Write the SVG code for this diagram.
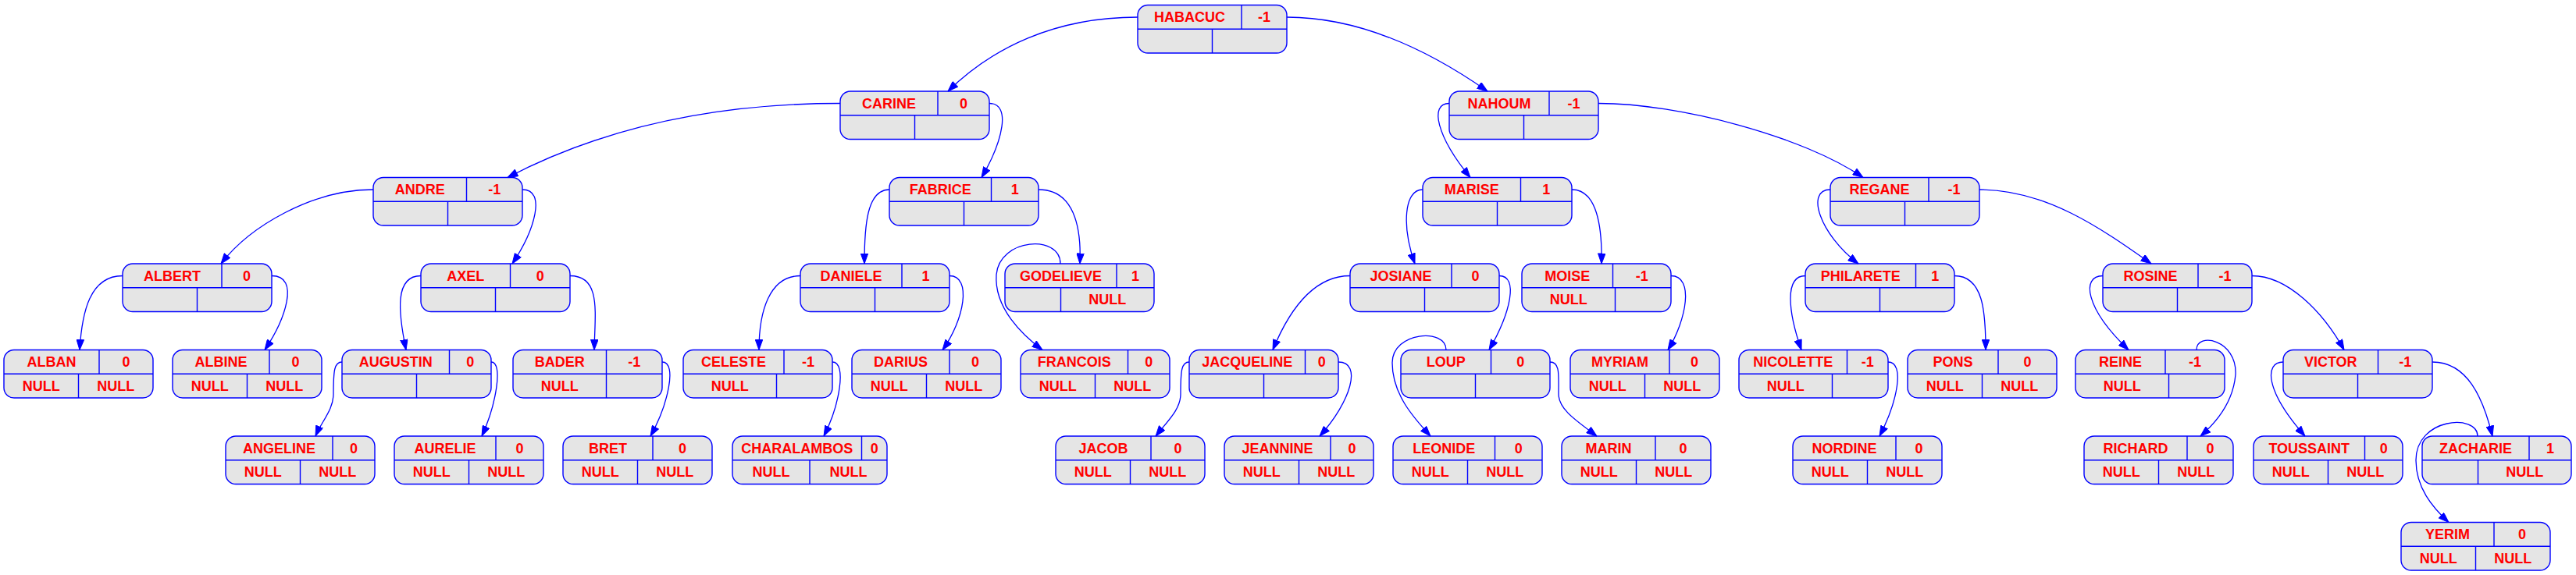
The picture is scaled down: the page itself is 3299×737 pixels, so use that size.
<svg xmlns="http://www.w3.org/2000/svg" width="3299" height="737" viewBox="0 0 3299 737">
<style>
.n rect{fill:#e5e5e5;stroke:#0000ff;stroke-width:1.4}
.n path{fill:none;stroke:#0000ff;stroke-width:1.4}
.n text{font-family:"Liberation Sans",Arial,sans-serif;font-weight:bold;font-size:18px;fill:#ff0000;text-anchor:middle}
.e path{fill:none;stroke:#0000ff;stroke-width:1.3;marker-end:url(#a)}
</style>
<defs>
<marker id="a" markerUnits="userSpaceOnUse" markerWidth="14" markerHeight="10" refX="13" refY="5" orient="auto" viewBox="0 0 13 10"><path d="M0,0.3 L13,5 L0,9.7 z" fill="#0000ff" stroke="#0000ff" stroke-width="1"/></marker>
</defs>
<rect width="3299" height="737" fill="#ffffff"/>
<g id="nodes">
<g id="HABACUC" class="n"><rect x="1457" y="6.5" width="191" height="61.5" rx="13"/><path d="M1457,37.25H1648M1590,6.5V37.25M1552.5,37.25V68"/><text x="1523.5" y="28">HABACUC</text><text x="1619" y="28">-1</text></g>
<g id="CARINE" class="n"><rect x="1076" y="117" width="191" height="61.5" rx="13"/><path d="M1076,147.75H1267M1201,117V147.75M1171.5,147.75V178.5"/><text x="1138.5" y="138.5">CARINE</text><text x="1234" y="138.5">0</text></g>
<g id="NAHOUM" class="n"><rect x="1856" y="117" width="191" height="61.5" rx="13"/><path d="M1856,147.75H2047M1984,117V147.75M1951.5,147.75V178.5"/><text x="1920" y="138.5">NAHOUM</text><text x="2015.5" y="138.5">-1</text></g>
<g id="ANDRE" class="n"><rect x="478" y="227.5" width="191" height="61.5" rx="13"/><path d="M478,258.25H669M597.5,227.5V258.25M573.5,258.25V289"/><text x="537.75" y="249">ANDRE</text><text x="633.25" y="249">-1</text></g>
<g id="FABRICE" class="n"><rect x="1139" y="227.5" width="191" height="61.5" rx="13"/><path d="M1139,258.25H1330M1269.5,227.5V258.25M1234.5,258.25V289"/><text x="1204.25" y="249">FABRICE</text><text x="1299.75" y="249">1</text></g>
<g id="MARISE" class="n"><rect x="1822" y="227.5" width="191" height="61.5" rx="13"/><path d="M1822,258.25H2013M1947.5,227.5V258.25M1917.5,258.25V289"/><text x="1884.75" y="249">MARISE</text><text x="1980.25" y="249">1</text></g>
<g id="REGANE" class="n"><rect x="2344" y="227.5" width="191" height="61.5" rx="13"/><path d="M2344,258.25H2535M2470,227.5V258.25M2439.5,258.25V289"/><text x="2407" y="249">REGANE</text><text x="2502.5" y="249">-1</text></g>
<g id="ALBERT" class="n"><rect x="157" y="338" width="191" height="61.5" rx="13"/><path d="M157,368.75H348M284,338V368.75M252.5,368.75V399.5"/><text x="220.5" y="359.5">ALBERT</text><text x="316" y="359.5">0</text></g>
<g id="AXEL" class="n"><rect x="539" y="338" width="191" height="61.5" rx="13"/><path d="M539,368.75H730M653.5,338V368.75M634.5,368.75V399.5"/><text x="596.25" y="359.5">AXEL</text><text x="691.75" y="359.5">0</text></g>
<g id="DANIELE" class="n"><rect x="1025" y="338" width="191" height="61.5" rx="13"/><path d="M1025,368.75H1216M1155,338V368.75M1120.5,368.75V399.5"/><text x="1090" y="359.5">DANIELE</text><text x="1185.5" y="359.5">1</text></g>
<g id="GODELIEVE" class="n"><rect x="1287" y="338" width="191" height="61.5" rx="13"/><path d="M1287,368.75H1478M1430,338V368.75M1358.5,368.75V399.5"/><text x="1358.5" y="359.5">GODELIEVE</text><text x="1454" y="359.5">1</text><text x="1418.25" y="390">NULL</text></g>
<g id="JOSIANE" class="n"><rect x="1729" y="338" width="191" height="61.5" rx="13"/><path d="M1729,368.75H1920M1859,338V368.75M1824.5,368.75V399.5"/><text x="1794" y="359.5">JOSIANE</text><text x="1889.5" y="359.5">0</text></g>
<g id="MOISE" class="n"><rect x="1949" y="338" width="191" height="61.5" rx="13"/><path d="M1949,368.75H2140M2065.5,338V368.75M2068.5,368.75V399.5"/><text x="2007.25" y="359.5">MOISE</text><text x="2102.75" y="359.5">-1</text><text x="2008.75" y="390">NULL</text></g>
<g id="PHILARETE" class="n"><rect x="2312" y="338" width="191" height="61.5" rx="13"/><path d="M2312,368.75H2503M2453.5,338V368.75M2407.5,368.75V399.5"/><text x="2382.75" y="359.5">PHILARETE</text><text x="2478.25" y="359.5">1</text></g>
<g id="ROSINE" class="n"><rect x="2693" y="338" width="191" height="61.5" rx="13"/><path d="M2693,368.75H2884M2815,338V368.75M2788.5,368.75V399.5"/><text x="2754" y="359.5">ROSINE</text><text x="2849.5" y="359.5">-1</text></g>
<g id="ALBAN" class="n"><rect x="5" y="448.5" width="191" height="61.5" rx="13"/><path d="M5,479.25H196M127,448.5V479.25M100.5,479.25V510"/><text x="66" y="470">ALBAN</text><text x="161.5" y="470">0</text><text x="52.75" y="500.5">NULL</text><text x="148.25" y="500.5">NULL</text></g>
<g id="ALBINE" class="n"><rect x="221" y="448.5" width="191" height="61.5" rx="13"/><path d="M221,479.25H412M345,448.5V479.25M316.5,479.25V510"/><text x="283" y="470">ALBINE</text><text x="378.5" y="470">0</text><text x="268.75" y="500.5">NULL</text><text x="364.25" y="500.5">NULL</text></g>
<g id="AUGUSTIN" class="n"><rect x="438" y="448.5" width="191" height="61.5" rx="13"/><path d="M438,479.25H629M575.5,448.5V479.25M533.5,479.25V510"/><text x="506.75" y="470">AUGUSTIN</text><text x="602.25" y="470">0</text></g>
<g id="BADER" class="n"><rect x="657" y="448.5" width="191" height="61.5" rx="13"/><path d="M657,479.25H848M776.5,448.5V479.25M776.5,479.25V510"/><text x="716.75" y="470">BADER</text><text x="812.25" y="470">-1</text><text x="716.75" y="500.5">NULL</text></g>
<g id="CELESTE" class="n"><rect x="875" y="448.5" width="191" height="61.5" rx="13"/><path d="M875,479.25H1066M1004,448.5V479.25M994.5,479.25V510"/><text x="939.5" y="470">CELESTE</text><text x="1035" y="470">-1</text><text x="934.75" y="500.5">NULL</text></g>
<g id="DARIUS" class="n"><rect x="1091" y="448.5" width="191" height="61.5" rx="13"/><path d="M1091,479.25H1282M1216,448.5V479.25M1186.5,479.25V510"/><text x="1153.5" y="470">DARIUS</text><text x="1249" y="470">0</text><text x="1138.75" y="500.5">NULL</text><text x="1234.25" y="500.5">NULL</text></g>
<g id="FRANCOIS" class="n"><rect x="1307" y="448.5" width="191" height="61.5" rx="13"/><path d="M1307,479.25H1498M1444.5,448.5V479.25M1402.5,479.25V510"/><text x="1375.75" y="470">FRANCOIS</text><text x="1471.25" y="470">0</text><text x="1354.75" y="500.5">NULL</text><text x="1450.25" y="500.5">NULL</text></g>
<g id="JACQUELINE" class="n"><rect x="1523" y="448.5" width="191" height="61.5" rx="13"/><path d="M1523,479.25H1714M1671.5,448.5V479.25M1618.5,479.25V510"/><text x="1597.25" y="470">JACQUELINE</text><text x="1692.75" y="470">0</text></g>
<g id="LOUP" class="n"><rect x="1794" y="448.5" width="191" height="61.5" rx="13"/><path d="M1794,479.25H1985M1909.5,448.5V479.25M1889.5,479.25V510"/><text x="1851.75" y="470">LOUP</text><text x="1947.25" y="470">0</text></g>
<g id="MYRIAM" class="n"><rect x="2011" y="448.5" width="191" height="61.5" rx="13"/><path d="M2011,479.25H2202M2138,448.5V479.25M2106.5,479.25V510"/><text x="2074.5" y="470">MYRIAM</text><text x="2170" y="470">0</text><text x="2058.75" y="500.5">NULL</text><text x="2154.25" y="500.5">NULL</text></g>
<g id="NICOLETTE" class="n"><rect x="2227" y="448.5" width="191" height="61.5" rx="13"/><path d="M2227,479.25H2418M2365.5,448.5V479.25M2346.5,479.25V510"/><text x="2296.25" y="470">NICOLETTE</text><text x="2391.75" y="470">-1</text><text x="2286.75" y="500.5">NULL</text></g>
<g id="PONS" class="n"><rect x="2443" y="448.5" width="191" height="61.5" rx="13"/><path d="M2443,479.25H2634M2559,448.5V479.25M2538.5,479.25V510"/><text x="2501" y="470">PONS</text><text x="2596.5" y="470">0</text><text x="2490.75" y="500.5">NULL</text><text x="2586.25" y="500.5">NULL</text></g>
<g id="REINE" class="n"><rect x="2658" y="448.5" width="191" height="61.5" rx="13"/><path d="M2658,479.25H2849M2773,448.5V479.25M2777.5,479.25V510"/><text x="2715.5" y="470">REINE</text><text x="2811" y="470">-1</text><text x="2717.75" y="500.5">NULL</text></g>
<g id="VICTOR" class="n"><rect x="2924" y="448.5" width="191" height="61.5" rx="13"/><path d="M2924,479.25H3115M3045.5,448.5V479.25M3019.5,479.25V510"/><text x="2984.75" y="470">VICTOR</text><text x="3080.25" y="470">-1</text></g>
<g id="ANGELINE" class="n"><rect x="289" y="559" width="191" height="61.5" rx="13"/><path d="M289,589.75H480M426,559V589.75M384.5,589.75V620.5"/><text x="357.5" y="580.5">ANGELINE</text><text x="453" y="580.5">0</text><text x="336.75" y="611">NULL</text><text x="432.25" y="611">NULL</text></g>
<g id="AURELIE" class="n"><rect x="505" y="559" width="191" height="61.5" rx="13"/><path d="M505,589.75H696M635,559V589.75M600.5,589.75V620.5"/><text x="570" y="580.5">AURELIE</text><text x="665.5" y="580.5">0</text><text x="552.75" y="611">NULL</text><text x="648.25" y="611">NULL</text></g>
<g id="BRET" class="n"><rect x="721" y="559" width="191" height="61.5" rx="13"/><path d="M721,589.75H912M836,559V589.75M816.5,589.75V620.5"/><text x="778.5" y="580.5">BRET</text><text x="874" y="580.5">0</text><text x="768.75" y="611">NULL</text><text x="864.25" y="611">NULL</text></g>
<g id="CHARALAMBOS" class="n"><rect x="938" y="559" width="198" height="61.5" rx="13"/><path d="M938,589.75H1136M1103.5,559V589.75M1037,589.75V620.5"/><text x="1020.75" y="580.5">CHARALAMBOS</text><text x="1119.75" y="580.5">0</text><text x="987.5" y="611">NULL</text><text x="1086.5" y="611">NULL</text></g>
<g id="JACOB" class="n"><rect x="1352" y="559" width="191" height="61.5" rx="13"/><path d="M1352,589.75H1543M1474,559V589.75M1447.5,589.75V620.5"/><text x="1413" y="580.5">JACOB</text><text x="1508.5" y="580.5">0</text><text x="1399.75" y="611">NULL</text><text x="1495.25" y="611">NULL</text></g>
<g id="JEANNINE" class="n"><rect x="1568" y="559" width="191" height="61.5" rx="13"/><path d="M1568,589.75H1759M1704,559V589.75M1663.5,589.75V620.5"/><text x="1636" y="580.5">JEANNINE</text><text x="1731.5" y="580.5">0</text><text x="1615.75" y="611">NULL</text><text x="1711.25" y="611">NULL</text></g>
<g id="LEONIDE" class="n"><rect x="1784" y="559" width="191" height="61.5" rx="13"/><path d="M1784,589.75H1975M1914.5,559V589.75M1879.5,589.75V620.5"/><text x="1849.25" y="580.5">LEONIDE</text><text x="1944.75" y="580.5">0</text><text x="1831.75" y="611">NULL</text><text x="1927.25" y="611">NULL</text></g>
<g id="MARIN" class="n"><rect x="2000" y="559" width="191" height="61.5" rx="13"/><path d="M2000,589.75H2191M2120,559V589.75M2095.5,589.75V620.5"/><text x="2060" y="580.5">MARIN</text><text x="2155.5" y="580.5">0</text><text x="2047.75" y="611">NULL</text><text x="2143.25" y="611">NULL</text></g>
<g id="NORDINE" class="n"><rect x="2296" y="559" width="191" height="61.5" rx="13"/><path d="M2296,589.75H2487M2428,559V589.75M2391.5,589.75V620.5"/><text x="2362" y="580.5">NORDINE</text><text x="2457.5" y="580.5">0</text><text x="2343.75" y="611">NULL</text><text x="2439.25" y="611">NULL</text></g>
<g id="RICHARD" class="n"><rect x="2669" y="559" width="191" height="61.5" rx="13"/><path d="M2669,589.75H2860M2801,559V589.75M2764.5,589.75V620.5"/><text x="2735" y="580.5">RICHARD</text><text x="2830.5" y="580.5">0</text><text x="2716.75" y="611">NULL</text><text x="2812.25" y="611">NULL</text></g>
<g id="TOUSSAINT" class="n"><rect x="2886" y="559" width="191" height="61.5" rx="13"/><path d="M2886,589.75H3077M3028.5,559V589.75M2981.5,589.75V620.5"/><text x="2957.25" y="580.5">TOUSSAINT</text><text x="3052.75" y="580.5">0</text><text x="2933.75" y="611">NULL</text><text x="3029.25" y="611">NULL</text></g>
<g id="ZACHARIE" class="n"><rect x="3102" y="559" width="191" height="61.5" rx="13"/><path d="M3102,589.75H3293M3239,559V589.75M3173.5,589.75V620.5"/><text x="3170.5" y="580.5">ZACHARIE</text><text x="3266" y="580.5">1</text><text x="3233.25" y="611">NULL</text></g>
<g id="YERIM" class="n"><rect x="3075" y="669.5" width="191" height="61.5" rx="13"/><path d="M3075,700.25H3266M3194,669.5V700.25M3170.5,700.25V731"/><text x="3134.5" y="691">YERIM</text><text x="3230" y="691">0</text><text x="3122.75" y="721.5">NULL</text><text x="3218.25" y="721.5">NULL</text></g>
</g>
<g id="connectors" class="e">
<path d="M1457,22 C1350,22 1270,62 1214,117"/>
<path d="M1648,22 C1745,22 1835,68 1905,117"/>
<path d="M1076,132.5 C900,132.5 760,170 650,227.5"/>
<path d="M1267,132.5 C1295,132.5 1285,180 1257,227.5"/>
<path d="M1856,132.5 C1830,132.5 1840,175 1883,227.5"/>
<path d="M2047,132.5 C2150,132.5 2310,175 2386,227.5"/>
<path d="M478,243 C400,243 320,290 283,338"/>
<path d="M669,243 C700,243 685,295 656,338"/>
<path d="M1139,243 C1110,243 1107,290 1107,338"/>
<path d="M1330,243 C1375,243 1385,290 1383,338"/>
<path d="M1822,243 C1798,243 1795,290 1812,338"/>
<path d="M2013,243 C2045,243 2052,290 2051,338"/>
<path d="M2344,243 C2312,243 2330,300 2380,338"/>
<path d="M2535,243 C2620,243 2690,292 2755,338"/>
<path d="M157,353.5 C115,353.5 105,400 102,448.5"/>
<path d="M348,353.5 C385,353.5 365,410 339,448.5"/>
<path d="M539,353.5 C505,353.5 510,400 520,448.5"/>
<path d="M730,353.5 C770,353.5 762,400 761,448.5"/>
<path d="M1025,353.5 C985,353.5 972,400 972,448.5"/>
<path d="M1216,353.5 C1245,353.5 1235,410 1207,448.5"/>
<path d="M1358,338 C1358,300 1280,305 1276,352 C1273,395 1310,430 1335,448.5"/>
<path d="M1729,353.5 C1680,353.5 1650,400 1630,448.5"/>
<path d="M1920,353.5 C1945,353.5 1935,400 1907,448.5"/>
<path d="M2140,353.5 C2170,353.5 2160,410 2136,448.5"/>
<path d="M2312,353.5 C2285,353.5 2290,400 2307,448.5"/>
<path d="M2503,353.5 C2540,353.5 2543,400 2543,448.5"/>
<path d="M2693,353.5 C2665,353.5 2670,395 2726,448.5"/>
<path d="M2884,353.5 C2930,353.5 2975,400 3002,448.5"/>
<path d="M438,464 C428,464 427,475 427,505 C427,525 412,540 404,559"/>
<path d="M629,464 C645,464 635,520 617,559"/>
<path d="M848,464 C868,464 855,520 833,559"/>
<path d="M1066,464 C1085,464 1075,520 1055,559"/>
<path d="M1523,464 C1513,464 1512,475 1512,505 C1512,525 1495,540 1480,559"/>
<path d="M1714,464 C1745,464 1730,515 1690,559"/>
<path d="M1852,448.5 C1852,420 1783,425 1783,465 C1783,505 1810,535 1832,559"/>
<path d="M1985,464 C1998,464 1996,480 1996,505 C1996,525 2020,540 2045,559"/>
<path d="M2418,464 C2440,464 2430,515 2407,559"/>
<path d="M2813,448.5 C2813,425 2865,435 2863,480 C2860,515 2840,540 2818,559"/>
<path d="M2924,464 C2900,464 2900,500 2952,559"/>
<path d="M3115,464 C3160,464 3180,510 3192,559"/>
<path d="M3173,559 C3173,530 3094,535 3094,590 C3094,625 3115,650 3136,669.5"/>
</g>
</svg>
